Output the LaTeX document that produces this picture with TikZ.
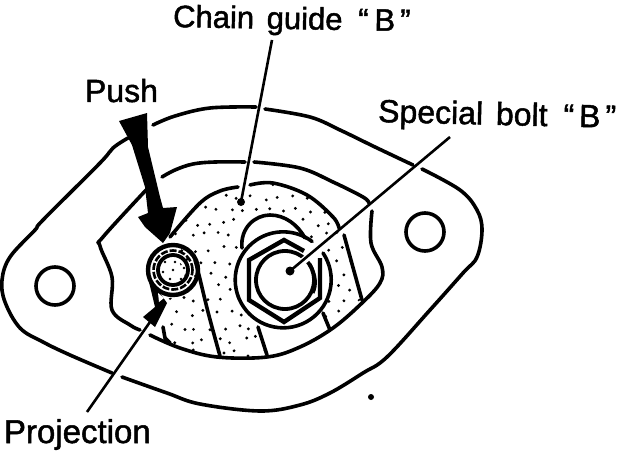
\documentclass[tikz,border=0pt]{standalone}
\usepackage{fontspec}
\setmainfont{Liberation Sans}
\newfontfamily\lblfont{Liberation Sans}[FakeBold=1.5]
\tikzset{
  ln/.style={line width=3.6pt,line cap=round,line join=round,black},
  thin leader/.style={line width=2.6pt,line cap=butt,black},
  lbl/.style={anchor=base west,inner sep=0pt,outer sep=0pt,font=\lblfont\fontsize{32}{32}\selectfont},
  crv/.style={smooth,tension=0.6},
}
\begin{document}
\begin{tikzpicture}[x=1pt,y=-1pt]
\useasboundingbox (0,0) rectangle (624,452);
\fill[white] (0,0) rectangle (624,452);
% stipple
\begin{scope}
\clip (170,237) -- (200,203) -- (240,187) -- (273,183) -- (307,195) -- (333,217) -- (343,235) -- (362,298) -- (333,327) -- (300,347) -- (267,357) -- (217,357) -- (180,348) -- (160,335) -- (165,300) -- (190,290) -- cycle;
\pgfmathsetseed{7}
\foreach \i in {0,...,15}{\foreach \j in {0,...,14}{
  \pgfmathsetmacro{\px}{160+\i*13.5+mod(\j,2)*6+rnd*7}
  \pgfmathsetmacro{\py}{180+\j*13+rnd*7}
  \fill[black] (\px,\py) circle (1.6pt);
}}
\end{scope}
\fill[white] (283,280) circle (48pt);
\fill[white] (242,248) .. controls (240,225) and (262,212) .. (275,215) .. controls (290,216) and (300,228) .. (305,240) -- cycle;
\fill[white] (258,327) -- (267,357) -- (300,347) -- (333,327) -- (323,313) -- cycle;
% outer plate
\draw[ln] plot[crv] coordinates {(153,125) (175,116) (210,108) (256,107)};
\draw[ln] plot[crv] coordinates {(265,109) (310,117) (340,130) (375,147) (413,165)};
\draw[ln] plot[crv] coordinates {(422,169) (460,190) (477,210) (482,230) (477,257) (463,273) (430,310) (387,357) (363,373) (330,393) (300,405) (260,411) (200,404) (167,393) (122,377)};
\draw[ln] plot[crv] coordinates {(112,373) (70,355) (43,342) (20,328) (5,302) (2,280) (10,257) (35,230) (43,220) (100,163) (113,148) (128,138)};
\draw[ln] (425,232) circle (19pt);
\draw[ln] (55,286) circle (19pt);
% inner contour
\draw[ln] plot[crv] coordinates {(162,177) (175,170) (193,164) (215,162) (245,162)};
\draw[ln] plot[crv] coordinates {(254,162) (300,168) (333,182) (363,197) (369,203)};
\draw[ln] plot[crv] coordinates {(372,211) (371,243) (382,267) (380,283) (362,303) (333,328) (300,347) (267,357) (217,357) (180,348) (150,335)};
\draw[ln] plot[crv] coordinates {(147,189) (103,237) (100,246) (112,277) (112,310) (130,325) (140,330)};
% guide outline
\draw[ln] plot[crv] coordinates {(170,237) (200,203) (220,191) (238,187)};
\draw[ln] plot[crv] coordinates {(250,185) (273,183) (307,195) (333,217) (339,228)};
\draw[ln] (344,235) -- (362,300);
% ribs
\draw[ln] plot[crv] coordinates {(195,260) (199,275) (208,312) (220,356)};
\draw[ln] (258,327) -- (267,355);
\draw[ln] (323,313) -- (330,330);
\draw[ln] (163,327) -- (165,338) -- (170,343);
% washer and head
\draw[ln] (323,253) arc[start angle=34,delta angle=-341,radius=48pt];
\draw[ln] (242,248) .. controls (240,228) and (255,215) .. (270,215) .. controls (285,215) and (298,225) .. (305,238);
% bolt
\draw[line width=4.4pt,line join=miter,black] (304,251) -- (284,240) -- (249,260) -- (249,300) -- (284,322) -- (320,298) -- (320,258);
\draw[line width=3.8pt,black] (285,280) circle (29pt);
\draw[line width=3pt,black] (310,264) .. controls (316,275) and (317,285) .. (313,293);
% pin
\draw[line width=4.4pt,black] (173,270) circle (25pt);
\draw[line width=2.6pt,black,dash pattern=on 7pt off 2pt] (173,270) circle (19.5pt);
\draw[line width=3.8pt,black] (173,270) circle (15pt);
\foreach \a/\b in {165/262,175/262,184/268,181/279,170/279,163/272,173/270}{\fill[black] (\a,\b) circle (1.3pt);}
% projection tab
\fill[black] (149,282) -- (155,307) -- (143,317) -- (155,327) -- (167,303) -- (162,296) -- (157,290) -- cycle;
\fill[white] (158,293) -- (164,298) -- (159,302) -- cycle;
% push arrow
\fill[black] (119,121) -- (147,113) -- (148,147) -- (160,197) -- (163,208) -- (177,207) -- (170,233) -- (163,243) -- (145,227) -- (138,217) -- (148,213) -- (145,187) -- (132,145) -- cycle;
% leaders and labels
\node[lbl,rotate=-1,font=\lblfont\fontsize{31}{31}\selectfont] (cg) at (173,27) {Chain\hspace{4pt} guide\hspace{7pt} “\hspace{6pt}B\hspace{5pt}”};
\node[lbl,rotate=-1.4] (sb) at (378,122) {Special\hspace{4pt} bolt\hspace{7pt} “\hspace{5pt}B\hspace{5pt}”};
\node[lbl] (push) at (85,102) {Push};
\node[lbl,font=\lblfont\fontsize{33}{33}\selectfont] (proj) at (4,443) {Projection};
\coordinate (cgstart) at (272,40);
\coordinate (cgdot) at (241,202);
\coordinate (sbstart) at (450,137);
\coordinate (sbdot) at (290,271);
\coordinate (pjstart) at (87,412);
\coordinate (pjend) at (150,322);
\draw[thin leader] (cgstart) -- (cgdot);
\fill[black] (cgdot) circle (4pt);
\draw[white,line width=7pt] (302,262) -- (322,246);
\draw[thin leader] (sbstart) -- (sbdot);
\fill[black] (sbdot) circle (4.5pt);
\draw[thin leader] (pjstart) -- (pjend);
\fill[black] (371,397) circle (3pt);
\end{tikzpicture}
\end{document}
